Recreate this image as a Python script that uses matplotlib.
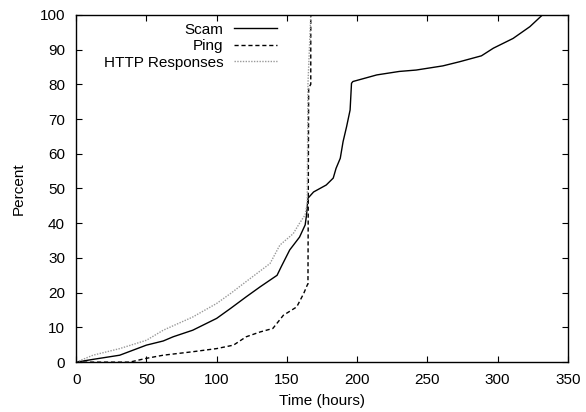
import matplotlib.pyplot as plt

plt.rcParams['font.family'] = ['Liberation Sans', 'DejaVu Sans']

# cumulative percentage over time for each data source
scam_hours = [0, 12, 31, 50, 62, 69, 83, 100, 110, 121, 131, 143, 146, 152, 159,
              163, 164, 165, 169, 178, 183, 185, 188, 190, 192.5, 195, 196, 197,
              214, 230, 242, 261, 273, 288.5, 297, 311, 323, 332]
scam_pct = [0, 0.8, 2.0, 4.9, 6.1, 7.3, 9.2, 12.6, 15.5, 18.8, 21.7, 25, 27.5, 32.3, 36,
            39.5, 42.4, 47.2, 49, 51, 53, 55.8, 58.7, 63.5, 67.8, 72.6, 80.3, 80.8,
            82.7, 83.7, 84.1, 85.3, 86.5, 88.2, 90.4, 93.2, 96.6, 100]

ping_hours = [0, 38, 50, 62, 83, 100, 112, 121, 131, 140, 147.5, 157, 162, 164.5,
              165, 165.5, 167, 167]
ping_pct = [0, 0, 1.1, 2, 3, 3.9, 4.9, 7.3, 8.7, 9.7, 13.5, 15.9, 19.8, 22.2,
            22.5, 79, 80, 100]

http_hours = [0, 12, 31, 50, 62, 83, 100, 110, 121, 138, 145, 154.5, 159, 163,
              164.5, 165, 167]
http_pct = [0, 2.0, 3.9, 6.3, 9.2, 13, 16.9, 19.8, 23.2, 28.4, 33.7, 37, 40, 42.4,
            46, 80, 100]

fig, ax = plt.subplots(figsize=(5.86, 4.12), dpi=100)
fig.subplots_adjust(left=0.130, right=0.969, top=0.964, bottom=0.121)

ax.plot(scam_hours, scam_pct, color='black', lw=1.0, label='Scam')
ax.plot(ping_hours, ping_pct, color='black', lw=1.0, ls=(0, (3, 2)), label='Ping')
ax.plot(http_hours, http_pct, color='#999999', lw=1.0, ls=(0, (1, 1)),
        label='HTTP Responses')

ax.set_xlim(0, 350)
ax.set_ylim(0, 100)
ax.set_xticks(range(0, 351, 50))
ax.set_yticks(range(0, 101, 10))
ax.tick_params(direction='in', top=True, right=True, labelsize=11, length=4, pad=8)
for s in ax.spines.values():
    s.set_linewidth(1.0)

ax.set_xlabel('Time (hours)', fontsize=11, labelpad=5)
ax.set_ylabel('Percent', fontsize=11, labelpad=10)

ax.legend(loc='upper right', bbox_to_anchor=(0.427, 1.004), frameon=False,
          markerfirst=False, fontsize=11, handlelength=2.8, labelspacing=0.17,
          borderaxespad=0.2, handletextpad=0.7)

fig.savefig('out.png', dpi=100)
